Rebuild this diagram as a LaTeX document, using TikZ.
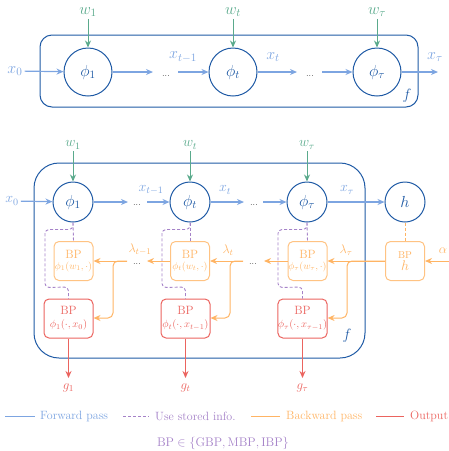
\documentclass[tikz,border=0pt]{standalone}
\usepackage{fix-cm}
\usetikzlibrary{arrows.meta,calc}
\definecolor{dblue}{HTML}{1F5AA5}
\definecolor{fblue}{HTML}{7DA5E1}
\definecolor{wgreen}{HTML}{5AAA8C}
\definecolor{borange}{HTML}{FFB464}
\definecolor{ored}{HTML}{EB645F}
\definecolor{spurple}{HTML}{A582C8}
\newcommand{\fs}[1]{\fontsize{#1}{#1}\selectfont}
\begin{document}
\begin{tikzpicture}[x=1pt,y=-1pt,
  tip/.style={-{Stealth[length=7pt,width=6pt]}},
  circ/.style={circle,draw=dblue,line width=1pt,minimum size=48pt,inner sep=0pt,text=dblue,font=\fs{16}},
  scirc/.style={circ,minimum size=40pt},
  fwd/.style={draw=fblue,line width=1.2pt,tip},
  warr/.style={draw=wgreen,line width=1pt,tip},
  xl/.style={text=fblue,font=\fs{16},inner sep=2pt},
  sxl/.style={text=fblue,font=\fs{14},inner sep=2pt},
  wl/.style={text=wgreen,font=\fs{16},inner sep=2pt},
  swl/.style={text=wgreen,font=\fs{14},inner sep=2pt},
  dotsn/.style={font=\fs{9},inner sep=0pt},
  bpo/.style={draw=borange!80,line width=1pt,rounded corners=5pt,minimum width=39pt,minimum height=39pt,inner sep=0pt,align=center,text=borange,font=\fs{12}},
  bpr/.style={draw=ored,line width=1pt,rounded corners=5pt,minimum width=49pt,minimum height=39pt,inner sep=0pt,align=center,text=ored,font=\fs{12}},
  bwd/.style={draw=borange,line width=1pt,tip},
  bwdb/.style={draw=borange,line width=1pt,rounded corners=5pt,tip},
  stored/.style={draw=spurple,line width=0.9pt,dash pattern=on 3pt off 2pt,rounded corners=4pt},
  outarr/.style={draw=ored,line width=1pt,tip},
  legtxt/.style={anchor=west,font=\fs{12},inner sep=0pt}
]
\useasboundingbox (0,0) rectangle (449,451);

% ---------- top diagram ----------
\node[draw=dblue,line width=1pt,rounded corners=12pt,minimum width=378pt,minimum height=72pt,inner sep=0pt] (ftop) at (229,71) {};
\node[text=dblue,font=\fs{15}] (ftopl) at (407,96) {$f$};
\node[circ] (a1) at (88,72) {$\phi_1$};
\node[circ] (at) at (233,72) {$\phi_t$};
\node[circ] (aT) at (377,72) {$\phi_\tau$};
\node[wl] (aw1) at (88,12) {$w_1$};
\node[wl] (awt) at (233,12) {$w_t$};
\node[wl] (awT) at (377,12) {$w_\tau$};
\draw[warr] (aw1) -- (a1);
\draw[warr] (awt) -- (at);
\draw[warr] (awT) -- (aT);
\node[xl] (ax0) at (15,71) {$x_0$};
\draw[fwd] (ax0) -- (a1);
\coordinate (ae1) at (153,72);
\draw[fwd] (a1) -- (ae1);
\node[dotsn] (ad1) at (166,76) {...};
\coordinate (as2) at (178,72);
\draw[fwd] (as2) -- (at);
\node[xl] (axt1) at (183,57) {$x_{t-1}$};
\coordinate (ae2) at (297,72);
\draw[fwd] (at) -- (ae2);
\node[xl] (axt) at (273,57) {$x_t$};
\node[dotsn] (ad2) at (310,76) {...};
\coordinate (as3) at (322,72);
\draw[fwd] (as3) -- (aT);
\coordinate (ae3) at (438,72);
\draw[fwd] (aT) -- (ae3);
\node[xl] (axT) at (435,57) {$x_\tau$};

% ---------- bottom diagram ----------
\node[draw=dblue,line width=1pt,rounded corners=25pt,minimum width=331pt,minimum height=195pt,inner sep=0pt] (fbot) at (199.5,260.5) {};
\node[text=dblue,font=\fs{15}] (fbotl) at (347,336) {$f$};
\node[scirc] (b1) at (73,202) {$\phi_1$};
\node[scirc] (bt) at (190,202) {$\phi_t$};
\node[scirc] (bT) at (307,202) {$\phi_\tau$};
\node[scirc] (bh) at (405,202) {$h$};
\node[swl] (bw1) at (73,145) {$w_1$};
\node[swl] (bwt) at (190,145) {$w_t$};
\node[swl] (bwT) at (307,145) {$w_\tau$};
\draw[warr] (bw1) -- (b1);
\draw[warr] (bwt) -- (bt);
\draw[warr] (bwT) -- (bT);
\node[sxl] (bx0) at (12,201) {$x_0$};
\draw[fwd] (bx0) -- (b1);
\coordinate (be1) at (128,202);
\draw[fwd] (b1) -- (be1);
\node[dotsn] (bd1) at (137,205) {...};
\coordinate (bs2) at (147,202);
\draw[fwd] (bs2) -- (bt);
\node[sxl] (bxt1) at (151,190) {$x_{t-1}$};
\coordinate (be2) at (244,202);
\draw[fwd] (bt) -- (be2);
\node[sxl] (bxt) at (225,190) {$x_t$};
\node[dotsn] (bd2) at (254,205) {...};
\coordinate (bs3) at (263,202);
\draw[fwd] (bs3) -- (bT);
\draw[fwd] (bT) -- (bh);
\node[sxl] (bxT) at (347,190) {$x_\tau$};

% BP boxes (backward)
\node[bpo] (o1) at (73.5,261) {BP\\[-1pt]{\fs{10}$\phi_1(w_1,\cdot)$}};
\node[bpo] (ot) at (190,261) {BP\\[-1pt]{\fs{10}$\phi_t(w_t,\cdot)$}};
\node[bpo] (oT) at (307.5,261) {BP\\[-1pt]{\fs{10}$\phi_\tau(w_\tau,\cdot)$}};
\node[bpo,font=\fs{10}] (oh) at (405,261) {BP\\[2pt]{\fs{14}$h$}};
% BP boxes (output)
\node[bpr] (r1) at (68.5,318.5) {BP\\[1pt]{\fs{10.5}$\phi_1(\cdot,x_0)$}};
\node[bpr] (rt) at (185.5,318.5) {BP\\[1pt]{\fs{10.5}$\phi_t(\cdot,x_{t-1})$}};
\node[bpr] (rT) at (302.5,318.5) {BP\\[1pt]{\fs{10.5}$\phi_\tau(\cdot,x_{\tau-1})$}};

% stored info
\draw[stored] (b1.south) -- (o1.north);
\draw[stored] (bt.south) -- (ot.north);
\draw[stored] (bT.south) -- (oT.north);
\draw[stored] (b1.south) -- ++(0,7) -- ++(-28,0) -- ++(0,58) -- (r1.north |- 0,287) -- (r1.north);
\draw[stored] (bt.south) -- ++(0,7) -- ++(-28,0) -- ++(0,58) -- (rt.north |- 0,287) -- (rt.north);
\draw[stored] (bT.south) -- ++(0,7) -- ++(-29,0) -- ++(0,58) -- (rT.north |- 0,287) -- (rT.north);
\draw[draw=borange,line width=1pt,dash pattern=on 3pt off 2pt] (bh.south) -- (oh.north);

% backward pass
\node[text=borange,font=\fs{13},inner sep=1pt] (alpha) at (443,251) {$\alpha$};
\coordinate (ain) at (449,261);
\draw[bwd] (ain) -- (oh.east);
\draw[bwd] (oh.west) -- (oT.east);
\draw[bwdb] (oh.west) -- (347,261) -- (347,318) -- (rT.east |- 0,318);
\node[text=borange,font=\fs{12.5},inner sep=1pt] (lT) at (346,250) {$\lambda_\tau$};
\coordinate (le3) at (264,261);
\draw[bwd] (oT.west) -- (le3);
\node[dotsn] (bd3) at (253,264) {...};
\coordinate (ls2) at (243,261);
\draw[bwd] (ls2) -- (ot.east);
\draw[bwdb] (ls2) -- (230,261) -- (230,318) -- (rt.east |- 0,318);
\node[text=borange,font=\fs{12.5},inner sep=1pt] (lt) at (228,250) {$\lambda_t$};
\coordinate (le2) at (147,261);
\draw[bwd] (ot.west) -- (le2);
\node[dotsn] (bd4) at (137,264) {...};
\coordinate (ls1) at (127,261);
\draw[bwd] (ls1) -- (o1.east);
\draw[bwdb] (ls1) -- (113,261) -- (113,318) -- (r1.east |- 0,318);
\node[text=borange,font=\fs{12.5},inner sep=1pt] (lt1) at (140,250) {$\lambda_{t-1}$};

% outputs
\coordinate (g1e) at (68.5,378);
\coordinate (gte) at (185.5,378);
\coordinate (gTe) at (302.5,378);
\draw[outarr] (r1.south) -- (g1e);
\draw[outarr] (rt.south) -- (gte);
\draw[outarr] (rT.south) -- (gTe);
\node[text=ored,font=\fs{13}] (g1) at (68.5,388) {$g_1$};
\node[text=ored,font=\fs{13}] (gt) at (185.5,388) {$g_t$};
\node[text=ored,font=\fs{13}] (gT) at (302.5,388) {$g_\tau$};

% legend
\coordinate (L1a) at (5,416); \coordinate (L1b) at (35,416);
\draw[fblue,line width=1pt] (L1a) -- (L1b);
\node[legtxt,text=fblue] (L1t) at (40,416) {Forward pass};
\coordinate (L2a) at (123,416); \coordinate (L2b) at (149,416);
\draw[spurple,line width=0.9pt,dash pattern=on 3pt off 2pt] (L2a) -- (L2b);
\node[legtxt,text=spurple] (L2t) at (155,416) {Use stored info.};
\coordinate (L3a) at (251,416); \coordinate (L3b) at (280,416);
\draw[borange,line width=1pt] (L3a) -- (L3b);
\node[legtxt,text=borange] (L3t) at (286,416) {Backward pass};
\coordinate (L4a) at (376,416); \coordinate (L4b) at (404,416);
\draw[ored,line width=1pt] (L4a) -- (L4b);
\node[legtxt,text=ored] (L4t) at (410,416) {Output};
\node[text=spurple,font=\fs{12.5}] (bpset) at (223,443) {$\mathrm{BP}\in\{\mathrm{GBP},\mathrm{MBP},\mathrm{IBP}\}$};
\end{tikzpicture}
\end{document}
